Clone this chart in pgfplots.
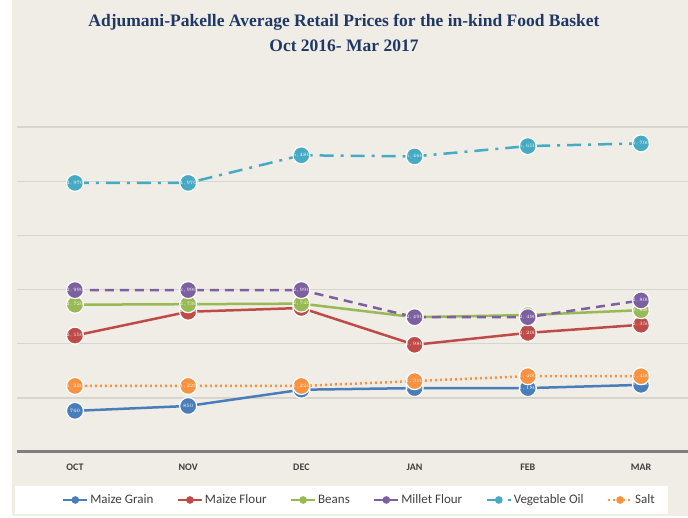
\documentclass[border=0pt]{standalone}
\usepackage{pgfplots}
\pgfplotsset{compat=1.18}
\usetikzlibrary{backgrounds}
\usepackage{fontspec}
\setmainfont{Carlito}
\newfontfamily\titlefont{Liberation Serif}
\definecolor{bg}{HTML}{F0EDE6}
\definecolor{cgrain}{HTML}{4A7EBB}
\definecolor{cflour}{HTML}{BE4B48}
\definecolor{cbeans}{HTML}{98B954}
\definecolor{cmillet}{HTML}{7D60A0}
\definecolor{coil}{HTML}{46AAC5}
\definecolor{csalt}{HTML}{F69240}
\definecolor{gridc}{HTML}{D8D5CE}
\definecolor{axc}{HTML}{7F7F7F}
\definecolor{titlec}{HTML}{1F3864}
\begin{document}
\begin{tikzpicture}
\begin{axis}[
 name=ax, scale only axis, width=671pt, height=379pt,
 xmin=-0.512, xmax=5.415, ymin=0, ymax=7000,
 axis line style={draw=none},
 xtick={0,...,5}, xticklabels={OCT,NOV,DEC,JAN,FEB,MAR},
 xticklabel style={font=\fontsize{10}{10}\bfseries\selectfont, text=black!75, yshift=-8pt},
 major tick length=0pt,
 ytick={1000,2000,...,6000}, yticklabels={},
 ymajorgrids, major grid style={gridc, line width=1.5pt},
 clip=false,
 nodes near coords={\pgfmathprintnumber[fixed,precision=0,1000 sep={,}]{\pgfplotspointmeta}},
 every node near coord/.append style={font=\fontsize{5.3}{6}\bfseries\selectfont, text=white, anchor=center, inner sep=0pt},
 legend columns=6,
 legend style={at={(0.5104,-0.1266)}, anchor=center, draw=none, fill=none,
   font=\fontsize{13}{13}\selectfont, text=black!75, column sep=0pt,
   /tikz/every even column/.append style={column sep=21.5pt}},
 legend image code/.code={\draw[#1, line width=2pt] (0pt,0pt) -- (24pt,0pt);
   \fill[#1, solid] (12pt,0pt) circle (2.5pt);},
 every axis plot/.append style={line width=2.5pt, mark=*, mark size=8.5pt},
]
\coordinate (O) at (rel axis cs:0,0);
\draw[axc, line width=3pt] (rel axis cs:0,0) -- (rel axis cs:1,0);
\addplot[color=cgrain, mark options={solid, fill=cgrain, draw=white, line width=1.2pt}]
 coordinates {(0,760) (1,850) (2,1150) (3,1180) (4,1180) (5,1240)};
\addlegendentry{Maize Grain}
\addplot[color=cflour, mark options={solid, fill=cflour, draw=white, line width=1.2pt}]
 coordinates {(0,2150) (1,2590) (2,2660) (3,1980) (4,2200) (5,2350)};
\addlegendentry{Maize Flour}
\addplot[color=cbeans, mark options={solid, fill=cbeans, draw=white, line width=1.2pt}]
 coordinates {(0,2720) (1,2730) (2,2740) (3,2490) (4,2530) (5,2620)};
\addlegendentry{Beans}
\addplot[color=cmillet, dash pattern=on 9pt off 6pt, mark options={solid, fill=cmillet, draw=white, line width=1.2pt}]
 coordinates {(0,2990) (1,2990) (2,2990) (3,2490) (4,2490) (5,2800)};
\addlegendentry{Millet Flour}
\addplot[color=coil, dash pattern=on 14pt off 7pt on 3pt off 7pt, mark options={solid, fill=coil, draw=white, line width=1.2pt}]
 coordinates {(0,4970) (1,4970) (2,5480) (3,5460) (4,5650) (5,5700)};
\addlegendentry{Vegetable Oil}
\addplot[color=csalt, dash pattern=on 2pt off 3pt, mark options={solid, fill=csalt, draw=white, line width=1.2pt}]
 coordinates {(0,1220) (1,1220) (2,1220) (3,1310) (4,1400) (5,1400)};
\addlegendentry{Salt}
\end{axis}
\begin{scope}[on background layer, shift={(O)}, xshift=-17pt, yshift=-66pt, x=1pt, y=1pt]
\fill[white] (0,0) rectangle (688,518);
\fill[bg] (12,2) rectangle (688,518);
\fill[white] (15,4) rectangle (668,32);
\end{scope}
\begin{scope}[shift={(O)}, xshift=-17pt, yshift=-66pt, x=1pt, y=1pt]
\node[font=\titlefont\bfseries\fontsize{17.5}{25}\selectfont, text=titlec, align=center] at (344,485.5)
 {Adjumani-Pakelle Average Retail Prices for the in-kind Food Basket\\Oct 2016- Mar 2017};
\pgfresetboundingbox
\path[use as bounding box] (0,0) rectangle (688,518);
\end{scope}
\end{tikzpicture}
\end{document}
